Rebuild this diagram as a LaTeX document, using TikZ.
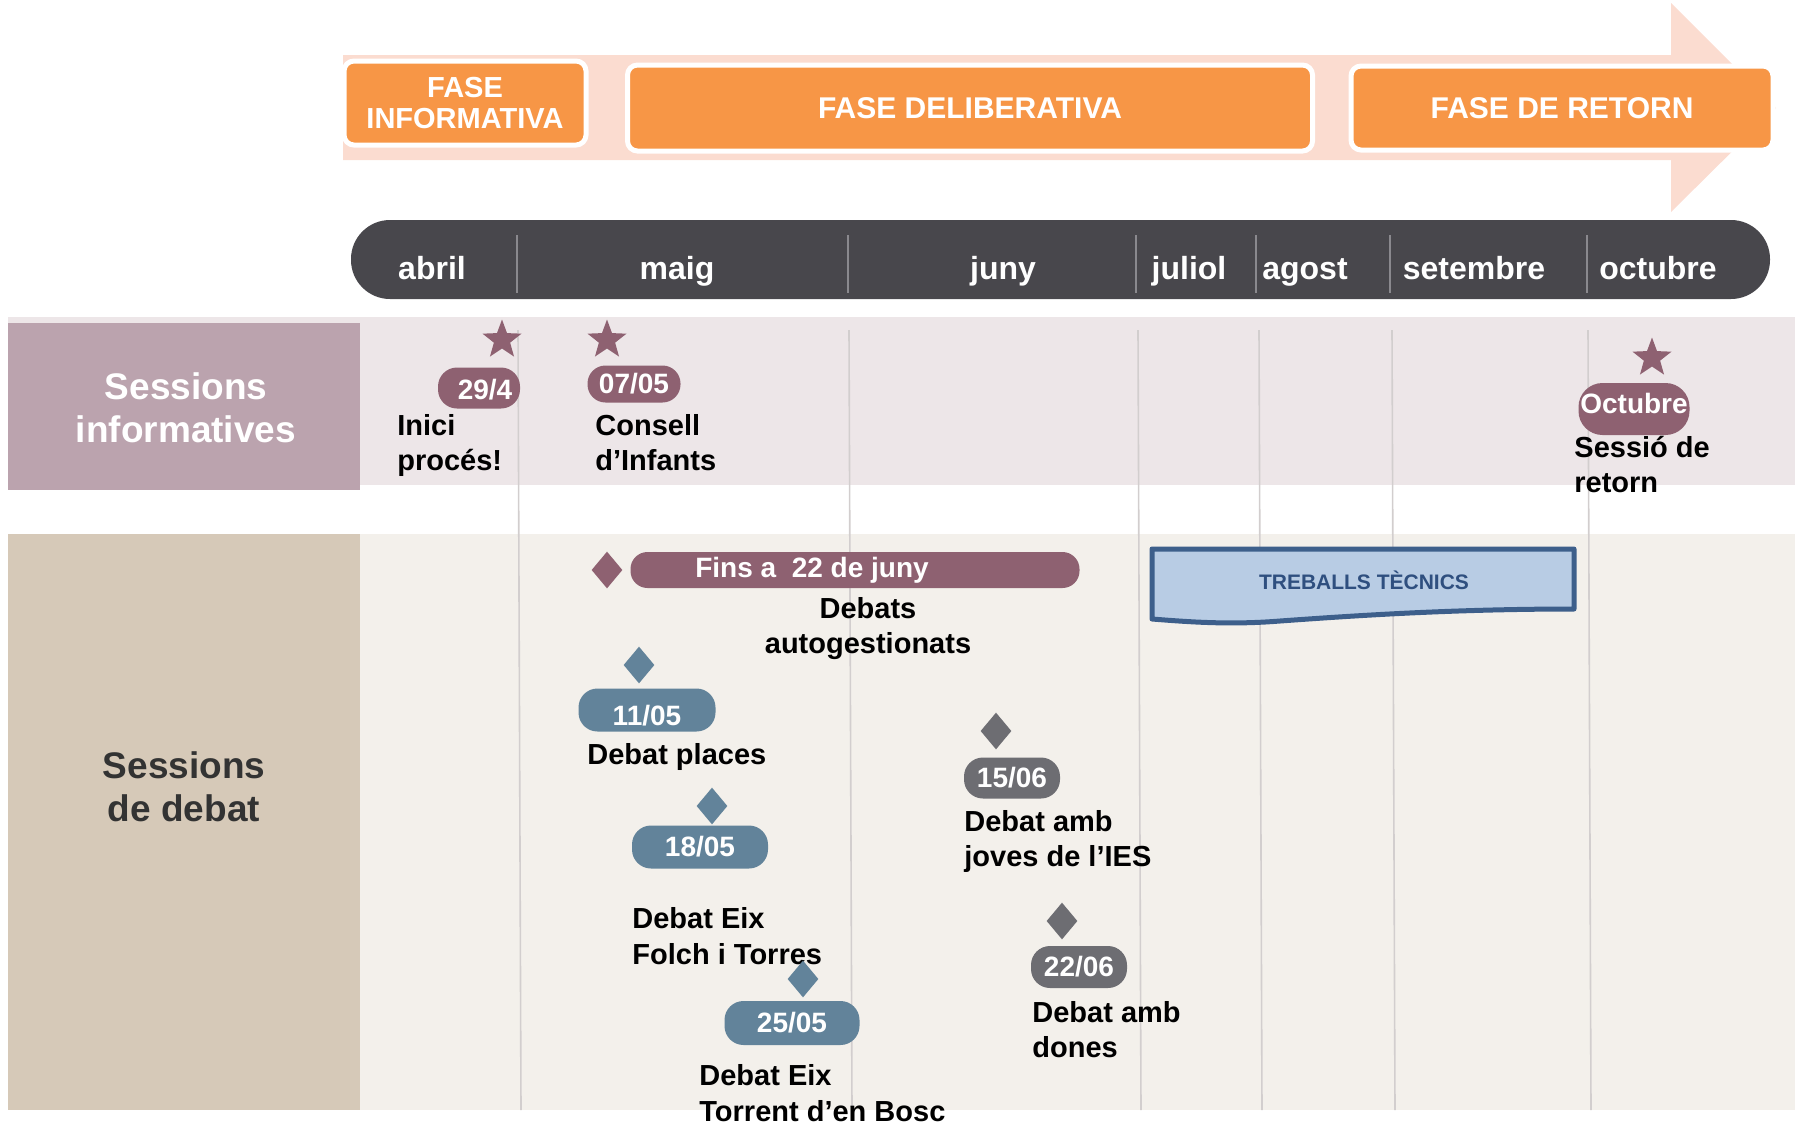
\documentclass[tikz,border=0pt]{standalone}
\usepackage{fontspec}
\setmainfont{Liberation Sans}
\usetikzlibrary{shapes.geometric}

\definecolor{fase}{HTML}{F79646}
\definecolor{fletxa}{HTML}{FBDCD0}
\definecolor{barra}{HTML}{48474C}
\definecolor{separa}{HTML}{8A898E}
\definecolor{malva}{HTML}{8E6171}
\definecolor{malvaclar}{HTML}{BBA3AE}
\definecolor{fonsinfo}{HTML}{EDE6E8}
\definecolor{beix}{HTML}{D6C9B8}
\definecolor{fonsdebat}{HTML}{F3F0EB}
\definecolor{blau}{HTML}{62839A}
\definecolor{gris}{HTML}{6D6D72}
\definecolor{tecnic}{HTML}{B8CCE4}
\definecolor{tecnicvora}{HTML}{3D5F8B}
\definecolor{tecnictext}{HTML}{2F4F7F}
\definecolor{graella}{HTML}{D2CECE}
\definecolor{titol}{HTML}{333333}

\tikzset{
  fasebox/.style={draw=white, line width=2.5pt, fill=fase, rounded corners=5pt, text=white,
    font=\fontsize{15}{15.5}\selectfont\bfseries, align=center, inner sep=0pt},
  mes/.style={text=white, font=\fontsize{16}{18}\selectfont\bfseries, anchor=base, inner sep=0pt},
  pill/.style={fill=#1, rounded corners=9.5pt, text=white, font=\fontsize{14}{16}\selectfont\bfseries, inner sep=0pt},
  estrella/.style={star, star points=5, star point ratio=2.4, fill=malva, inner sep=0pt, minimum size=20.5pt},
  rombe/.style={diamond, fill=#1, inner sep=0pt, minimum width=15.5pt, minimum height=18.5pt},
  acte/.style={font=\fontsize{14.5}{17.5}\selectfont\bfseries, align=left, anchor=base west, inner sep=0pt},
  fila/.style={font=\fontsize{18.5}{21.5}\selectfont\bfseries, align=center, inner sep=0pt},
}

\begin{document}
\begin{tikzpicture}[x=0.5pt,y=-0.5pt]
  \useasboundingbox (0,0) rectangle (1801,1121);

  % Fases
  \fill[fletxa] (343,55) -- (1671,55) -- (1671,3) -- (1776,108) -- (1671,212) -- (1671,160) -- (343,160) -- cycle;
  \node[fasebox, minimum width=121pt, minimum height=42pt, font=\fontsize{14.5}{15.5}\selectfont\bfseries] (finfo) at (465,103) {FASE\\INFORMATIVA};
  \node[fasebox, minimum width=342.5pt, minimum height=43pt] (fdelib) at (970,108) {FASE DELIBERATIVA};
  \node[fasebox, minimum width=211pt, minimum height=42pt] (fretorn) at (1562,108) {FASE DE RETORN};

  %% Mesos
  \fill[barra, rounded corners=19.5pt] (351,220) rectangle (1770,299);
  \foreach \x in {517,848,1136,1256,1390,1587}
    \draw[separa, line width=0.6pt] (\x,235) -- (\x,293);
  \node[mes] (abril) at (432,279) {abril};
  \node[mes] (maig) at (677,279) {maig};
  \node[mes] (juny) at (1003,279) {juny};
  \node[mes] (juliol) at (1189,279) {juliol};
  \node[mes] (agost) at (1305,279) {agost};
  \node[mes] (setembre) at (1474,279) {setembre};
  \node[mes] (octubre) at (1658,279) {octubre};

  %%%%%%%%%%%%%%%%%%%%%%%%%%

  % Files
  \fill[fonsinfo] (8,317) rectangle (1795,485);
  \fill[malvaclar] (8,323) rectangle (360,490);
  \fill[fonsdebat] (8,534) rectangle (1795,1110);
  \fill[beix] (8,534) rectangle (360,1110);
  \foreach \x in {518,849,1138,1259,1392,1588}
    \draw[graella, line width=0.8pt] (\x,330) -- (\x+3,1110);

  \node[fila, text=white] (sinfo) at (186,408) {Sessions\\informatives};
  \node[fila, text=titol] (sdebat) at (184,787) {Sessions\\de debat};

  %% Sessions informatives
  \node[estrella] (e1) at (502,340) {};
  \node[pill=malva, minimum width=41pt, minimum height=20.5pt, text height=12pt] (d1) at (479,388) {\hspace*{6pt}29/4};
  \node[acte] (t1) at (397,470) {Inici\\procés!};

  \node[estrella] (e2) at (607,340) {};
  \node[pill=malva, minimum width=46.5pt, minimum height=18.5pt, rounded corners=9pt] (d2) at (634,384) {07/05};
  \node[acte] (t2) at (595,470) {Consell\\d’Infants};

  \node[estrella] (e3) at (1652,358) {};
  \node[pill=malva, minimum width=55.5pt, minimum height=26pt, rounded corners=12pt, text depth=6pt] (d3) at (1634,409) {Octubre};
  \node[acte] (t3) at (1574,492) {Sessió de\\retorn};

  %%%%%%%%%%%%%%%%%%%%%%%%%%

  %% Sessions de debat
  \node[rombe=malva] (r0) at (607,570) {};
  \node[pill=malva, minimum width=224.5pt, minimum height=18pt, rounded corners=8.5pt] (fins) at (855,570) {};
  \node[text=white, font=\fontsize{14}{16}\selectfont\bfseries, inner sep=0pt] (finst) at (812,570) {Fins a\ \ 22 de juny};
  \node[acte, align=center, anchor=base] (t4) at (868,653) {Debats\\autogestionats};

  % Treballs tecnics
  \draw[tecnicvora, fill=tecnic, line width=2.5pt, line join=round]
    (1152,549) -- (1574,549) -- (1574,609)
    .. controls (1450,609) and (1350,616) .. (1280,621)
    .. controls (1230,625) and (1190,622) .. (1152,619) -- cycle;
  \node[text=tecnictext, font=\fontsize{10.5}{12}\selectfont\bfseries] (tec) at (1364,580) {TREBALLS TÈCNICS};

  \node[rombe=blau] (r1) at (639,665) {};
  \node[pill=blau, minimum width=68.5pt, minimum height=21.5pt, text height=15.5pt] (d5) at (647,710) {11/05};
  \node[acte] (t5) at (587,764) {Debat places};

  \node[rombe=blau] (r2) at (712,806) {};
  \node[pill=blau, minimum width=68pt, minimum height=21.5pt] (d6) at (700,847) {18/05};
  \node[acte, font=\fontsize{14.5}{18}\selectfont\bfseries] (t6) at (632,964) {Debat Eix\\Folch i Torres};

  \node[rombe=blau] (r3) at (803,979) {};
  \node[pill=blau, minimum width=67.5pt, minimum height=22pt] (d7) at (792,1023) {25/05};
  \node[acte, font=\fontsize{14.5}{18}\selectfont\bfseries] (t7) at (699,1121) {Debat Eix\\Torrent d’en Bosc};

  \node[rombe=gris] (r4) at (996,731) {};
  \node[pill=gris, minimum width=48pt, minimum height=20.5pt] (d8) at (1012,778) {15/06};
  \node[acte] (t8) at (964,866) {Debat amb\\joves de l’IES};

  \node[rombe=gris] (r5) at (1062,921) {};
  \node[pill=gris, minimum width=48pt, minimum height=21pt] (d9) at (1079,967) {22/06};
  \node[acte] (t9) at (1032,1057) {Debat amb\\dones};
\end{tikzpicture}
\end{document}
